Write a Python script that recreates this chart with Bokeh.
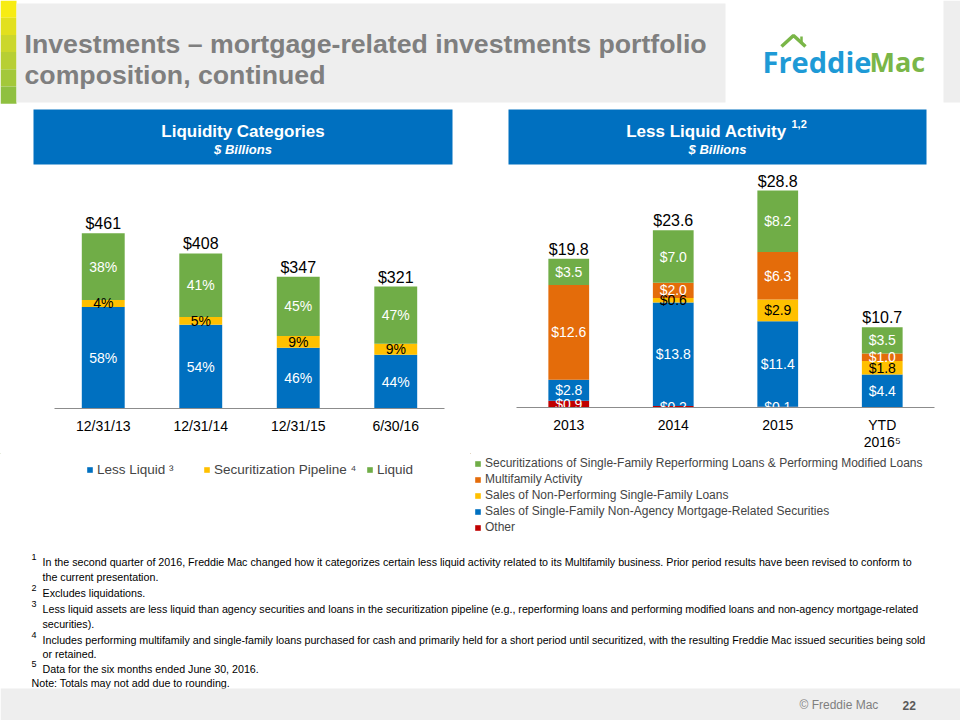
from bokeh.plotting import figure
from bokeh.models import Range1d, FactorRange, ColumnDataSource, Legend, LegendItem
from bokeh.layouts import column, row
from bokeh.core.properties import value
from bokeh.embed import file_html
from bokeh.resources import INLINE

# ---------------- data ----------------
liq_dates = ["12/31/13", "12/31/14", "12/31/15", "6/30/16"]
liq_totals = [461, 408, 347, 321]
pct_less_liquid = [58, 54, 46, 44]
pct_pipeline = [4, 5, 9, 9]
pct_liquid = [38, 41, 45, 47]

act_years = ["2013", "2014", "2015", "YTD\n2016\u2075"]
act_other = [0.9, 0.2, 0.1, 0.0]
act_nonagency = [2.8, 13.8, 11.4, 4.4]
act_npl = [0.0, 0.6, 2.9, 1.8]
act_multifamily = [12.6, 2.0, 6.3, 1.0]
act_securitizations = [3.5, 7.0, 8.2, 3.5]
act_totals = [19.8, 23.6, 28.8, 10.7]

BLUE = "#0070C0"
YELLOW = "#FFC000"
GREEN = "#70AD47"
ORANGE = "#E46C0A"
RED = "#C00000"
FONT = "Liberation Sans"


def deco_fig(w, h, x0, x1, y0, y1):
    p = figure(width=w, height=h, x_range=Range1d(x0, x1), y_range=Range1d(y1, y0),
               x_axis_location=None, y_axis_location=None, output_backend="svg",
               toolbar_location=None, min_border=0, frame_align=False)
    p.grid.visible = False
    p.outline_line_color = None
    p.background_fill_color = "white"
    p.border_fill_color = "white"
    return p


def txt(p, x, y, s, size, color="black", style="normal", align="left", baseline="middle", font=FONT):
    p.text(x=[x], y=[y], text=[s], text_font=value(font), text_font_size=f"{size}px",
           text_font_style=style, text_color=color, text_align=align, text_baseline=baseline)


# ---------------- header ----------------
hdr = deco_fig(960, 105, 0, 960, 0, 105)
accent = ["#F7EC13", "#E2E01E", "#CBD72C", "#B7CF34", "#A3C83A", "#8FC040"]
for i, c in enumerate(accent):
    hdr.quad(left=0, right=16, top=i * 17.2, bottom=(i + 1) * 17.2, color=c, line_color=None)
hdr.quad(left=16, right=725, top=3, bottom=102, color="#EEEEEE", line_color=None)
hdr.quad(left=943, right=960, top=0, bottom=102, color="#EEEEEE", line_color=None)
txt(hdr, 24, 43, "Investments \u2013 mortgage-related investments portfolio", 26.7, "#7F7F7F", "bold")
txt(hdr, 24, 74, "composition, continued", 26.7, "#7F7F7F", "bold")
# logo
hdr.line(x=[781, 793, 805], y=[46, 35, 46], line_color="#7AB648", line_width=3.5)
hdr.line(x=[801, 801], y=[42, 36], line_color="#7AB648", line_width=2.5)
txt(hdr, 762, 61, "Freddie", 29, "#1E9AD6", "bold", font="Open Sans")
txt(hdr, 869, 61, "Mac", 27, "#7AB648", "bold", font="Open Sans")

# ---------------- section boxes ----------------
lbox = deco_fig(470, 61, 0, 470, 105, 166)
lbox.quad(left=33, right=452, top=109, bottom=164, color=BLUE, line_color=None)
txt(lbox, 242.5, 131, "Liquidity Categories", 17, "white", "bold", "center")
txt(lbox, 242.5, 149, "$ Billions", 13, "white", "bold italic", "center")

rbox = deco_fig(490, 61, 470, 960, 105, 166)
rbox.quad(left=508, right=926, top=109, bottom=164, color=BLUE, line_color=None)
txt(rbox, 706, 131, "Less Liquid Activity", 17, "white", "bold", "center")
txt(rbox, 791, 123, "1,2", 11, "white", "bold")
txt(rbox, 717, 149, "$ Billions", 13, "white", "bold italic", "center")


def style_axis(p):
    ax = p.xaxis[0]
    ax.axis_line_color = "#8C8C8C"
    ax.major_tick_line_color = None
    ax.minor_tick_line_color = None
    ax.major_tick_in = 0
    ax.major_tick_out = 0
    ax.major_label_standoff = 9
    ax.major_label_text_font = FONT
    ax.major_label_text_font_size = "14px"
    ax.major_label_text_color = "black"
    ax.major_label_text_line_height = 1.1
    p.grid.visible = False
    p.outline_line_color = None


def seg_labels(p, cats, bottoms, vals, texts, color, size):
    xs, ys, ts = [], [], []
    for c, b, v, t in zip(cats, bottoms, vals, texts):
        if v > 0:
            xs.append(c)
            ys.append(b + v / 2)
            ts.append(t)
    p.text(x=xs, y=ys, text=ts, text_font=value(FONT), text_font_size=f"{size}px",
           text_color=color, text_align="center", text_baseline="middle")


def chart_fig(w, cats, ymax, left, right):
    return figure(width=w, height=287, x_range=FactorRange(factors=cats), y_range=Range1d(0, ymax),
                  x_axis_location="below", y_axis_location=None, output_backend="svg",
                  toolbar_location=None, min_border_left=left, min_border_right=right,
                  min_border_top=0, min_border_bottom=45, frame_align=False)


def add_legend(f, entries, location, **kw):
    items = []
    for lab, col in entries:
        r = f.vbar(x=[-5000], top=[1], bottom=[0], width=1, color=col, line_color=None)
        items.append(LegendItem(label=lab, renderers=[r]))
    f.add_layout(Legend(items=items, location=location, border_line_color=None,
                        background_fill_alpha=0, padding=0, margin=0, label_text_font=FONT,
                        label_standoff=4, glyph_width=7, glyph_height=7, label_height=16, **kw))


# ---------------- left chart ----------------
seg_ll = [t * p / 100 for t, p in zip(liq_totals, pct_less_liquid)]
seg_pp = [t * p / 100 for t, p in zip(liq_totals, pct_pipeline)]
seg_lq = [t * p / 100 for t, p in zip(liq_totals, pct_liquid)]
lsrc = ColumnDataSource(dict(cat=liq_dates, ll=seg_ll, pp=seg_pp, lq=seg_lq))

lp = chart_fig(470, liq_dates, 637, 54, 26)
lp.vbar_stack(["ll", "pp", "lq"], x="cat", width=0.44, color=[BLUE, YELLOW, GREEN],
              line_color=None, source=lsrc)
style_axis(lp)
zeros = [0] * len(liq_dates)
seg_labels(lp, liq_dates, zeros, seg_ll, [f"{v}%" for v in pct_less_liquid], "white", 14)
seg_labels(lp, liq_dates, seg_ll, seg_pp, [f"{v}%" for v in pct_pipeline], "black", 14)
seg_labels(lp, liq_dates, [a + b for a, b in zip(seg_ll, seg_pp)], seg_lq,
           [f"{v}%" for v in pct_liquid], "white", 14)
lp.text(x=liq_dates, y=liq_totals, text=[f"${v}" for v in liq_totals], text_font=value(FONT),
        text_font_size="16px", text_color="black", text_align="center", text_baseline="bottom",
        y_offset=-1)

llf = deco_fig(470, 92, 0, 470, 453, 545)
for (lab, col), lx in zip([("Less Liquid \u00b3", BLUE), ("Securitization Pipeline \u2074", YELLOW),
                           ("Liquid", GREEN)], [86, 203, 366]):
    add_legend(llf, [(lab, col)], (lx, 68), label_text_font_size="13.5px")

# ---------------- right chart ----------------
rsrc = ColumnDataSource(dict(cat=act_years, other=act_other, nonag=act_nonagency, npl=act_npl,
                             mf=act_multifamily, sec=act_securitizations))
rp = chart_fig(490, act_years, 32.1, 46, 26)
rp.vbar_stack(["other", "nonag", "npl", "mf", "sec"], x="cat", width=0.39,
              color=[RED, BLUE, YELLOW, ORANGE, GREEN], line_color=None, source=rsrc)
style_axis(rp)
series = [act_other, act_nonagency, act_npl, act_multifamily, act_securitizations]
lab_colors = ["white", "white", "black", "white", "white"]
base = [0.0] * len(act_years)
for vals, col in zip(series, lab_colors):
    seg_labels(rp, act_years, base, vals, [f"${v:.1f}" for v in vals], col, 14)
    base = [b + v for b, v in zip(base, vals)]
rp.text(x=act_years, y=act_totals, text=[f"${v:.1f}" for v in act_totals], text_font=value(FONT),
        text_font_size="16px", text_color="black", text_align="center", text_baseline="bottom",
        y_offset=-1)

rlf = deco_fig(490, 92, 470, 960, 453, 545)
add_legend(rlf, [("Securitizations of Single-Family Reperforming Loans & Performing Modified Loans", GREEN),
                 ("Multifamily Activity", ORANGE),
                 ("Sales of Non-Performing Single-Family Loans", YELLOW),
                 ("Sales of Single-Family Non-Agency Mortgage-Related Securities", BLUE),
                 ("Other", RED)],
           (4, 10), orientation="vertical", spacing=0, label_text_font_size="12px")

# ---------------- footer ----------------
ftr = deco_fig(960, 175, 0, 960, 545, 720)
notes = [
    ("1", 561, "In the second quarter of 2016, Freddie Mac changed how it categorizes certain less liquid activity related to its Multifamily business. Prior period results have been revised to conform to"),
    (None, 576, "the current presentation."),
    ("2", 592, "Excludes liquidations."),
    ("3", 608, "Less liquid assets are less liquid than agency securities and loans in the securitization pipeline (e.g., reperforming loans and performing modified loans and non-agency mortgage-related"),
    (None, 623, "securities)."),
    ("4", 639, "Includes performing multifamily and single-family loans purchased for cash and primarily held for a short period until securitized, with the resulting Freddie Mac issued securities being sold"),
    (None, 653, "or retained."),
    ("5", 668, "Data for the six months ended June 30, 2016."),
]
for sup, y, s in notes:
    if sup:
        txt(ftr, 31, y - 5, sup, 9)
    txt(ftr, 42, y, s, 10.7)
txt(ftr, 31, 682, "Note: Totals may not add due to rounding.", 10.7)
ftr.quad(left=0, right=960, top=688, bottom=720, color="#EEEEEE", line_color=None)
txt(ftr, 799, 704, "\u00a9 Freddie Mac", 12, "#7F7F7F")
txt(ftr, 902, 705, "22", 12, "#595959", "bold")

layout = column(hdr, row(column(lbox, lp, llf), column(rbox, rp, rlf)), ftr)
open("out.html", "w").write(file_html(layout, INLINE))
